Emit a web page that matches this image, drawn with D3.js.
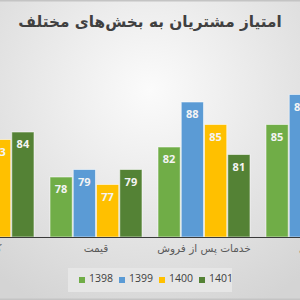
<!DOCTYPE html>
<html><head><meta charset="utf-8">
<script src="https://cdn.jsdelivr.net/npm/d3@7"></script>
<style>html,body{margin:0;padding:0;overflow:hidden;background:#fff}svg{display:block}</style>
</head><body>
<script>
const categories = ["کیفیت", "قیمت", "خدمات پس از فروش", "تحویل"];
const seriesNames = ["1398", "1399", "1400", "1401"];
const values1398 = [80, 78, 82, 85];
const values1399 = [82, 79, 88, 89];
const values1400 = [83, 77, 85, 86];
const values1401 = [84, 79, 81, 84];
const colors = ["#70AD47", "#5B9BD5", "#FFC000", "#548235"];
const titleText = "امتیاز مشتریان به بخش‌های مختلف";

const seriesValues = [values1398, values1399, values1400, values1401];
const W = 300, H = 300;
const svg = d3.select("body").append("svg").attr("width", W).attr("height", H);
const defs = svg.append("defs");
const grad = defs.append("radialGradient").attr("id", "bg").attr("cx", "50%").attr("cy", "30%").attr("r", "80%");
grad.append("stop").attr("offset", "0%").attr("stop-color", "#fbfbfb");
grad.append("stop").attr("offset", "100%").attr("stop-color", "#d4d4d4");
svg.append("rect").attr("width", W).attr("height", H).attr("fill", "url(#bg)");
svg.append("rect").attr("x", -1).attr("y", 0.5).attr("width", W + 2).attr("height", H - 1)
  .attr("fill", "none").attr("stroke", "#c4c4c4").attr("stroke-width", 2);

svg.append("text").attr("x", 150).attr("y", 27).attr("text-anchor", "middle")
  .attr("font-family", "DejaVu Sans, sans-serif").attr("font-weight", "bold")
  .attr("font-size", 15.3).attr("fill", "#404040").attr("direction", "rtl").text(titleText);

const baseY = 237, topY = 87;
const y = d3.scaleLinear().domain([70, 90]).range([baseY, topY]);
const x0 = d3.scaleBand().domain(categories).range([-74, 374]).padding(16 / 108);
const x1 = d3.scaleBand().domain(seriesNames).range([0, x0.bandwidth()]).paddingInner(0.045);

const g = svg.append("g");
categories.forEach((c, ci) => {
  const gg = g.append("g").attr("transform", `translate(${x0(c)},0)`);
  seriesNames.forEach((s, si) => {
    const v = seriesValues[si][ci];
    gg.append("rect").attr("x", x1(s)).attr("y", y(v)).attr("width", x1.bandwidth())
      .attr("height", baseY - y(v)).attr("fill", colors[si])
      .attr("stroke", "rgba(255,255,255,0.55)").attr("stroke-width", 1);
    gg.append("text").attr("x", x1(s) + x1.bandwidth() / 2).attr("y", y(v) + 16)
      .attr("text-anchor", "middle").attr("font-family", "Open Sans, sans-serif")
      .attr("font-weight", "bold").attr("font-size", 11).attr("fill", "#f4f4f4").text(v);
  });
});

const xAxis = svg.append("g").attr("transform", `translate(0,${baseY})`)
  .call(d3.axisBottom(x0).tickSize(0).tickPadding(8));
xAxis.select(".domain").remove();
svg.append("line").attr("x1", 0).attr("x2", W).attr("y1", baseY + 0.5).attr("y2", baseY + 0.5)
  .attr("stroke", "#3a3a3a").attr("stroke-width", 1);
xAxis.selectAll("text").attr("font-family", "DejaVu Sans, sans-serif").attr("font-size", 10.5)
  .attr("fill", "#595959").attr("direction", "rtl").attr("text-anchor", "middle");

const leg = svg.append("g");
leg.append("rect").attr("x", 68).attr("y", 268).attr("width", 164).attr("height", 24).attr("fill", "#e6e6e6");
seriesNames.forEach((s, i) => {
  const lx = 79 + i * 40;
  leg.append("rect").attr("x", lx).attr("y", 277).attr("width", 6).attr("height", 6).attr("fill", colors[i]);
  leg.append("text").attr("x", lx + 10).attr("y", 282).attr("font-family", "Open Sans, sans-serif")
    .attr("font-size", 10.5).attr("fill", "#404040").text(s);
});
</script>
</body></html>
